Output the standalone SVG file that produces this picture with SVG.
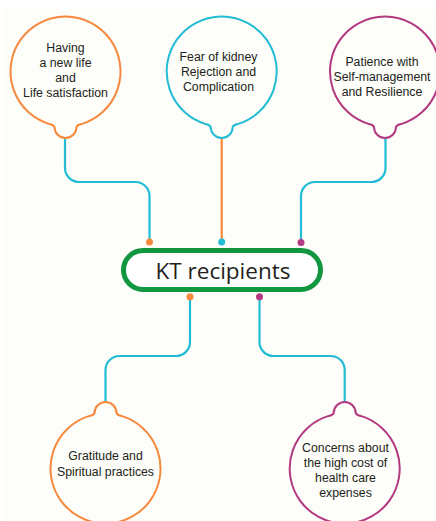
<svg xmlns="http://www.w3.org/2000/svg" width="436" height="521" viewBox="0 0 436 521">
  <style>
    .lbl { font-family: "Liberation Sans", Arial, sans-serif; font-size: 12.3px; fill: #231f20; text-anchor: middle; }
    .main { font-family: "Open Sans", "Liberation Sans", sans-serif; font-size: 22.5px; fill: #231f20; text-anchor: middle; }
    .bub { fill: none; stroke-width: 2; stroke-linejoin: round; }
    .conn { fill: none; stroke: #22bcd4; stroke-width: 2.2; }
    .orange { stroke: #f6893d; }
    .cyan { stroke: #22bcd4; }
    .magenta { stroke: #b33a82; }
  </style>
  <defs>
    <path id="bubDown" d="M -16 52.6 A 55 55 0 1 1 16 52.6 Q 12 53.4 11 55.5 A 11 11 0 0 1 -11 55.5 Q -12 53.4 -16 52.6 Z"/>
    <path id="bubUp" d="M -16 -52.6 A 55 55 0 1 0 16 -52.6 Q 12 -53.4 11 -55.5 A 11 11 0 0 0 -11 -55.5 Q -12 -53.4 -16 -52.6 Z"/>
  </defs>
  <rect x="0" y="0" width="436" height="521" fill="#ffffff"/>
  <rect x="3" y="9" width="433" height="512" fill="#fdfdf9"/>

  <g id="connectors">
    <path class="conn" d="M65 138 V168 A14 14 0 0 0 79 182 H135 A14 14 0 0 1 149.5 196 V242"/>
    <path class="conn orange" d="M221.7 138 V242"/>
    <path class="conn" d="M385.5 138 V168 A14 14 0 0 1 371.5 182 H315 A14 14 0 0 0 301 196 V242"/>
    <path class="conn" d="M190 297 V342 A14 14 0 0 1 176 356 H120 A14 14 0 0 0 105.5 370 V402"/>
    <path class="conn" d="M259.5 297 V342 A14 14 0 0 0 273.5 356 H330.5 A14 14 0 0 1 344.7 370 V402"/>
    <circle cx="149.5" cy="242" r="3.5" fill="#f6893d"/>
    <circle cx="221.7" cy="242" r="3.5" fill="#22bcd4"/>
    <circle cx="301" cy="242.5" r="3.5" fill="#b33a82"/>
    <circle cx="190" cy="296.7" r="3.5" fill="#f6893d"/>
    <circle cx="259.5" cy="296.7" r="3.5" fill="#b33a82"/>
  </g>

  <g id="center">
    <rect x="123.5" y="250.5" width="197" height="39" rx="19.5" fill="#ffffff" stroke="#12963f" stroke-width="5"/>
    <text class="main" x="223" y="278.5">KT recipients</text>
  </g>

  <g id="node-life">
    <use href="#bubDown" x="65.5" y="71.5" class="bub orange"/>
    <text class="lbl" x="65.5" y="52">Having</text>
    <text class="lbl" x="65.5" y="67">a new life</text>
    <text class="lbl" x="65.5" y="82">and</text>
    <text class="lbl" x="65.5" y="97">Life satisfaction</text>
  </g>

  <g id="node-fear">
    <use href="#bubDown" x="221.7" y="71.5" class="bub cyan"/>
    <text class="lbl" x="218.5" y="61">Fear of kidney</text>
    <text class="lbl" x="218.5" y="76">Rejection and</text>
    <text class="lbl" x="218.5" y="91">Complication</text>
  </g>

  <g id="node-patience">
    <use href="#bubDown" x="385" y="71.5" class="bub magenta"/>
    <text class="lbl" x="382" y="66">Patience with</text>
    <text class="lbl" x="382" y="81">Self-management</text>
    <text class="lbl" x="382" y="96">and Resilience</text>
  </g>

  <g id="node-gratitude">
    <use href="#bubUp" x="105.5" y="468.5" class="bub orange"/>
    <text class="lbl" x="105.5" y="460">Gratitude and</text>
    <text class="lbl" x="105.5" y="475.5">Spiritual practices</text>
  </g>

  <g id="node-cost">
    <use href="#bubUp" x="344.7" y="468.5" class="bub magenta"/>
    <text class="lbl" x="345.5" y="452">Concerns about</text>
    <text class="lbl" x="345.5" y="467">the high cost of</text>
    <text class="lbl" x="345.5" y="482">health care</text>
    <text class="lbl" x="345.5" y="497">expenses</text>
  </g>
</svg>
